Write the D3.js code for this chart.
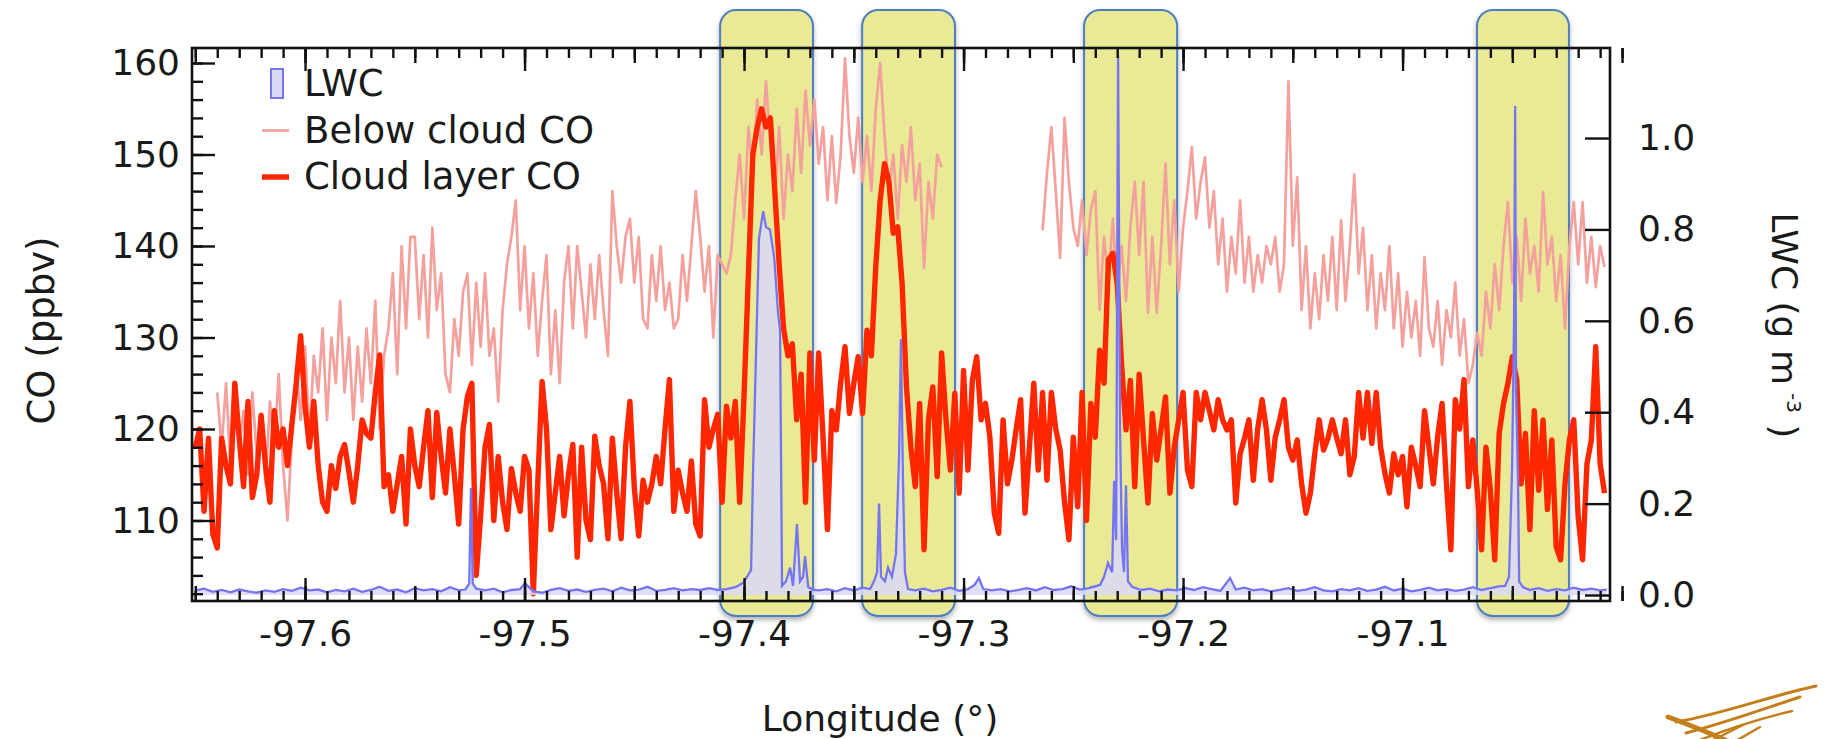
<!DOCTYPE html>
<html>
<head>
<meta charset="utf-8">
<script src="https://cdn.jsdelivr.net/npm/d3@7"></script>
<style>
  body { margin: 0; background: #fff; }
  svg text { font-family: "DejaVu Sans", Verdana, sans-serif; fill: #1a1a1a; }
</style>
</head>
<body>
<svg id="chart" width="1829" height="739"></svg>
<script>
// ---- values ----
// cloud layer CO (ppbv), one value every 0.002 deg starting at -97.650
const cloudStart = -97.650, cloudStep = 0.002;
const cloudCO = [
  118, 120, 111, 119, 108.5, 107, 119, 116, 114, 125,
  119, 113.7, 123, 112.5, 115, 121.5, 116, 112, 122, 118,
  120, 116, 120.5, 125, 130.2, 122.5, 118, 123, 116, 112,
  111, 116, 113.5, 117, 118.3, 115.3, 112, 116, 121, 119.5,
  119, 124, 128.1, 113.7, 115, 111, 114, 117, 109.6, 120,
  116, 113.7, 118, 122, 112.5, 121.8, 117, 113, 120, 115,
  109.6, 120, 123.6, 125, 104, 110.5, 118, 120.5, 110, 117,
  112, 109, 115.7, 113, 111, 117, 115.5, 102, 114, 125.2,
  120, 109, 113, 117, 110.5, 115, 118.3, 106, 118, 110,
  107.9, 119.2, 116, 114, 108, 119, 113, 108, 118, 123,
  113.6, 108.3, 114.4, 112, 114, 117, 114, 120, 125.4, 111,
  115.5, 113, 111, 116.5, 109.6, 108.3, 123.2, 118, 120, 121.6,
  112, 122.5, 119, 123, 112, 123.7, 137, 150, 153, 155,
  153, 154, 146, 138, 131, 128, 129.3, 121, 126, 112,
  128.3, 116.6, 128.3, 119, 109, 122, 119.9, 125, 129, 121.7,
  125, 127.9, 121.7, 130.8, 128, 137.7, 145, 149, 147, 141.4,
  142.1, 135.9, 124.6, 118, 113.7, 122.8, 106.8, 121, 124.6, 114.8,
  128.3, 121, 115.5, 123.9, 113, 126.4, 115.5, 125.3, 127.9, 121,
  122.8, 119.1, 110.8, 108.6, 121, 114, 116.6, 120, 123.2, 110.8,
  118, 125, 115.5, 124, 114.4, 124, 120, 117.7, 112, 107.9,
  119.1, 111.5, 124, 110, 122.8, 119.1, 128.6, 125, 138.5, 139.2,
  135.9, 127, 119.9, 125.3, 113.7, 126, 118.8, 111.9, 121.7, 116.6,
  120, 123.5, 113, 118, 121, 124, 115.5, 113.7, 124, 121,
  124, 122, 119.9, 123.2, 121, 119.9, 121, 111.9, 117.3, 119,
  121, 114.4, 120, 123.2, 119.9, 114.4, 119.1, 121, 123.2, 118,
  116.6, 118.8, 114, 110.8, 113, 117.3, 121, 117.7, 119, 121,
  119, 117.3, 121, 115, 117, 124, 119, 124, 118.4, 124,
  118, 115.1, 113, 117.3, 115, 117, 111.5, 118, 116, 113.7,
  122, 118, 114, 119.2, 122.8, 114, 106.8, 123.2, 120, 125.4,
  113.7, 118.8, 113.3, 106.8, 118, 113.3, 105.7, 119.5, 122.8, 125,
  127.9, 125.4, 114, 119.5, 109, 122, 113.3, 121, 111.2, 118.8,
  107.1, 105.7, 114, 118.8, 121, 110.4, 105.7, 116.2, 118.8, 129,
  116.2, 113
];

// below cloud CO (ppbv), two runs with a gap, 0.002 deg spacing
const belowStep = 0.002;
const belowStartA = -97.640;
const belowCOA = [
  124, 118, 125, 116, 124, 118, 122, 115, 124, 117,
  121, 114, 123, 118, 126, 116, 110, 119, 127, 121,
  129, 119, 128, 124, 131, 121, 130, 125, 134, 124,
  130, 121, 129, 123, 131, 125, 134, 120, 128, 131,
  137, 126, 140, 131, 141, 141, 132, 139, 130, 142,
  133, 137, 126, 124, 132, 128, 135, 137, 127, 136,
  129, 137, 128, 131, 123, 133, 138, 141, 145, 133,
  140, 131, 137, 128, 134, 139, 126, 133, 125, 136,
  140, 131, 140, 135, 130, 138, 132, 139, 133, 128,
  146, 140, 136, 141, 143, 136, 141, 132, 131, 139,
  134, 140, 133, 136, 131, 132, 139, 134, 140, 146,
  141, 135, 140, 130, 139, 138, 137, 139, 145, 150,
  143, 153, 148, 156, 150, 158, 151, 145, 153, 143,
  150, 146, 155, 148, 157, 151, 156, 149, 153, 145,
  152, 144.7, 150, 160.5, 152, 148, 154, 147, 152, 146,
  155, 160, 152, 146, 150, 143, 151, 147, 153, 145,
  149, 137.6, 147, 143, 150, 148.6
];
const belowStartB = -97.264;
const belowCOB = [
  141.7, 148, 153, 146, 138.7, 154, 147, 142, 140, 145,
  139, 144, 146, 133, 141, 136, 143, 135, 140, 134,
  142, 147, 139, 147, 132.7, 141, 132.7, 140, 149, 138,
  145, 135, 142, 146, 150.8, 143, 147, 149.7, 142, 146,
  138, 143, 135, 141, 137, 145, 136, 141, 135, 139,
  136, 140, 138, 141, 135, 138, 158, 140, 147.5, 133,
  140, 131, 137, 132, 139, 134, 141, 133, 142.8, 134,
  140, 147.8, 137, 142, 133, 139, 131, 137, 133, 140,
  131, 137, 129, 135, 130, 134, 128, 138.8, 131, 129,
  134, 127, 133, 130, 136, 128, 132, 125, 127, 130.5,
  128, 135, 131, 138, 133, 140, 144.8, 136, 141, 134,
  143, 137, 140, 135, 145.9, 138, 141, 134, 139, 131,
  140, 144.8, 138, 144.8, 136, 141, 135.5, 140, 137.7
];

// liquid water content (g m-3): [longitude, value]
const lwcData = [
  [-97.650,0.010],[-97.646,0.014],[-97.642,0.007],[-97.638,0.011],[-97.634,0.006],[-97.630,0.012],
  [-97.626,0.008],[-97.622,0.005],[-97.618,0.010],[-97.614,0.007],[-97.610,0.013],[-97.606,0.009],
  [-97.602,0.016],[-97.598,0.010],[-97.594,0.012],[-97.590,0.006],[-97.586,0.011],[-97.582,0.008],
  [-97.578,0.014],[-97.574,0.007],[-97.570,0.011],[-97.566,0.018],[-97.562,0.009],[-97.558,0.012],
  [-97.554,0.006],[-97.550,0.015],[-97.546,0.010],[-97.542,0.013],[-97.538,0.008],[-97.534,0.017],
  [-97.530,0.010],[-97.527,0.012],[-97.5252,0.025],[-97.5244,0.234],[-97.5236,0.025],[-97.522,0.014],
  [-97.518,0.010],[-97.514,0.014],[-97.510,0.006],[-97.506,0.011],[-97.502,0.013],[-97.4998,0.026],
  [-97.496,0.008],[-97.492,0.005],[-97.488,0.011],[-97.484,0.015],[-97.480,0.009],[-97.476,0.012],
  [-97.472,0.007],[-97.468,0.011],[-97.464,0.014],[-97.460,0.008],[-97.456,0.016],[-97.452,0.010],
  [-97.448,0.012],[-97.444,0.018],[-97.440,0.009],[-97.436,0.011],[-97.432,0.015],[-97.428,0.010],
  [-97.424,0.013],[-97.420,0.011],[-97.416,0.015],[-97.412,0.011],[-97.408,0.013],[-97.404,0.017],
  [-97.4005,0.026],[-97.3986,0.04],[-97.3968,0.055],[-97.3959,0.27],[-97.3945,0.536],[-97.3932,0.78],
  [-97.3913,0.84],[-97.39,0.805],[-97.3882,0.80],[-97.3863,0.74],[-97.3845,0.617],[-97.3836,0.58],
  [-97.3827,0.02],[-97.3809,0.03],[-97.379,0.06],[-97.3777,0.02],[-97.3759,0.155],[-97.3745,0.03],
  [-97.3731,0.04],[-97.3722,0.085],[-97.3708,0.018],[-97.369,0.012],
  [-97.366,0.010],[-97.362,0.013],[-97.358,0.008],[-97.354,0.015],[-97.350,0.010],[-97.346,0.016],
  [-97.3426,0.013],[-97.3408,0.03],[-97.3394,0.05],[-97.3385,0.2],[-97.3376,0.04],[-97.3358,0.03],
  [-97.3344,0.06],[-97.3326,0.04],[-97.3308,0.09],[-97.3294,0.3],[-97.3285,0.56],[-97.3276,0.25],
  [-97.3267,0.05],[-97.3253,0.013],
  [-97.322,0.010],[-97.318,0.014],[-97.314,0.008],[-97.310,0.011],[-97.306,0.016],[-97.302,0.009],
  [-97.298,0.013],[-97.295,0.022],[-97.293,0.037],[-97.291,0.013],[-97.287,0.010],[-97.283,0.013],
  [-97.279,0.008],[-97.275,0.011],[-97.271,0.015],[-97.267,0.010],[-97.263,0.017],[-97.259,0.011],
  [-97.255,0.013],[-97.251,0.019],[-97.247,0.012],
  [-97.243,0.015],[-97.2378,0.022],[-97.236,0.04],[-97.2342,0.07],[-97.2323,0.05],[-97.2314,0.25],
  [-97.2305,0.12],[-97.2296,1.18],[-97.2287,0.36],[-97.2278,0.10],[-97.2269,0.05],[-97.226,0.24],
  [-97.2251,0.03],[-97.2232,0.018],
  [-97.219,0.011],[-97.215,0.014],[-97.211,0.008],[-97.207,0.012],[-97.203,0.010],[-97.199,0.015],
  [-97.195,0.011],[-97.191,0.017],[-97.187,0.013],[-97.183,0.009],[-97.1786,0.037],[-97.176,0.012],
  [-97.172,0.016],[-97.168,0.010],[-97.164,0.013],[-97.160,0.008],[-97.156,0.011],[-97.152,0.015],
  [-97.148,0.009],[-97.144,0.012],[-97.140,0.017],[-97.136,0.010],[-97.132,0.008],[-97.128,0.013],
  [-97.124,0.010],[-97.120,0.015],[-97.116,0.009],[-97.112,0.012],[-97.108,0.018],[-97.104,0.010],
  [-97.100,0.014],[-97.096,0.008],[-97.092,0.011],[-97.088,0.016],[-97.084,0.010],[-97.080,0.013],
  [-97.076,0.009],[-97.072,0.012],[-97.068,0.017],[-97.064,0.011],[-97.060,0.015],[-97.056,0.019],
  [-97.0533,0.02],[-97.0515,0.04],[-97.0501,0.28],[-97.0492,0.6],[-97.0487,1.07],[-97.0483,0.45],
  [-97.0474,0.25],[-97.0469,0.03],[-97.0451,0.017],
  [-97.042,0.011],[-97.038,0.015],[-97.034,0.009],[-97.030,0.013],[-97.026,0.010],[-97.022,0.016],
  [-97.018,0.011],[-97.014,0.014],[-97.010,0.010],[-97.007,0.012]
];

// highlighted cloud passes (longitude ranges)
const cloudBoxes = [[-97.4109, -97.3686], [-97.3462, -97.3039], [-97.2451, -97.2027], [-97.0661, -97.0242]];

const coTicks = [110, 120, 130, 140, 150, 160];
const lwcTicks = [0, 0.2, 0.4, 0.6, 0.8, 1.0];
const lonTicks = [-97.6, -97.5, -97.4, -97.3, -97.2, -97.1];
const legendItems = [
  {label: 'LWC', type: 'box'},
  {label: 'Below cloud CO', type: 'thin'},
  {label: 'Cloud layer CO', type: 'thick'}
];

// ---- drawing ----
const W = 1829, H = 739;
const margin = {top: 48, right: 219, bottom: 138, left: 192};
const colors = {lwcFill: '#d9d9f8', lwcLine: '#7575f2', below: '#f4a19d', cloud: '#ff2600',
  boxFill: '#e9e996', boxLine: '#4d7fc0'};

const svg = d3.select('#chart');
const x = d3.scaleLinear().domain([-97.6515, -97.0055]).range([margin.left, W - margin.right]);
const yCO = d3.scaleLinear().domain([101.2, 161.64]).range([H - margin.bottom, margin.top]);
const yLWC = d3.scaleLinear().domain([-0.0131, 1.197]).range([H - margin.bottom, margin.top]);

const toPairs = (start, arr) => arr.map((v, i) => [start + i * cloudStep, v]);
const cloudSeries = toPairs(cloudStart, cloudCO);
const belowSeries = [toPairs(belowStartA, belowCOA), toPairs(belowStartB, belowCOB)];

const defs = svg.append('defs');
const shadow = defs.append('filter').attr('id', 'boxShadow')
    .attr('x', '-20%').attr('y', '-5%').attr('width', '140%').attr('height', '110%');
shadow.append('feDropShadow')
    .attr('dx', 0).attr('dy', 3).attr('stdDeviation', 2.5)
    .attr('flood-color', '#000').attr('flood-opacity', 0.3);

// yellow boxes behind everything
svg.append('g').attr('class', 'boxes')
    .selectAll('rect').data(cloudBoxes)
    .join('rect')
    .attr('x', d => x(d[0]))
    .attr('width', d => x(d[1]) - x(d[0]))
    .attr('y', margin.top - 38)
    .attr('height', H - margin.bottom - margin.top + 53)
    .attr('rx', 16)
    .attr('fill', colors.boxFill)
    .attr('stroke', colors.boxLine)
    .attr('stroke-width', 2)
    .attr('filter', 'url(#boxShadow)');

const coLine = d3.line().x(d => x(d[0])).y(d => yCO(d[1]));

svg.append('g').attr('class', 'below')
    .selectAll('path').data(belowSeries)
    .join('path')
    .attr('d', coLine)
    .attr('fill', 'none')
    .attr('stroke', colors.below)
    .attr('stroke-width', 2.7)
    .attr('stroke-linejoin', 'round');

svg.append('path').attr('class', 'cloud')
    .attr('d', coLine(cloudSeries))
    .attr('fill', 'none')
    .attr('stroke', colors.cloud)
    .attr('stroke-width', 5.4)
    .attr('stroke-linejoin', 'round');

const lwcArea = d3.area()
    .x(d => x(d[0]))
    .y0(yLWC(0))
    .y1(d => yLWC(d[1]));
svg.append('path').attr('class', 'lwcArea')
    .attr('d', lwcArea(lwcData))
    .attr('fill', colors.lwcFill)
    .attr('fill-opacity', 0.85);
svg.append('path').attr('class', 'lwcLine')
    .attr('d', d3.line().x(d => x(d[0])).y(d => yLWC(d[1]))(lwcData))
    .attr('fill', 'none')
    .attr('stroke', colors.lwcLine)
    .attr('stroke-width', 2.3);

// axes
const plotBottom = H - margin.bottom, plotRight = W - margin.right;
const styleAxis = g => {
    g.select('.domain').remove();
    g.selectAll('.tick line').attr('stroke', '#111').attr('stroke-width', 2.4);
    g.selectAll('.tick text').attr('font-size', 36).attr('fill', '#1a1a1a')
        .attr('font-family', '"DejaVu Sans", Verdana, sans-serif');
};
const lonMinor = d3.range(-97.65, -97.0, 0.01);
const lonMedium = d3.range(-97.65, -97.0, 0.05);

[['bottom', plotBottom, d3.axisBottom], ['top', margin.top, d3.axisTop]].forEach(([side, yPos, axisFn]) => {
    svg.append('g').attr('transform', `translate(0,${yPos})`)
        .call(axisFn(x).tickValues(lonMinor).tickSize(-10).tickFormat('')).call(styleAxis);
    svg.append('g').attr('transform', `translate(0,${yPos})`)
        .call(axisFn(x).tickValues(lonMedium).tickSize(-15).tickFormat('')).call(styleAxis);
    svg.append('g').attr('transform', `translate(0,${yPos})`)
        .call(axisFn(x).tickValues(lonTicks).tickSize(-23).tickPadding(19)
            .tickFormat(side === 'bottom' ? d => d.toFixed(1) : ''))
        .call(styleAxis);
});

svg.append('g').attr('transform', `translate(${margin.left},0)`)
    .call(d3.axisLeft(yCO).tickValues(d3.range(102, 162, 2)).tickSize(-11).tickFormat('')).call(styleAxis);
svg.append('g').attr('transform', `translate(${margin.left},0)`)
    .call(d3.axisLeft(yCO).tickValues(coTicks).tickSize(-23).tickPadding(12)).call(styleAxis);
svg.append('g').attr('transform', `translate(${plotRight},0)`)
    .call(d3.axisRight(yLWC).tickValues(lwcTicks).tickSize(-25).tickPadding(28)
        .tickFormat(d => d.toFixed(1)))
    .call(styleAxis);

svg.append('rect')
    .attr('x', margin.left).attr('y', margin.top)
    .attr('width', plotRight - margin.left).attr('height', plotBottom - margin.top)
    .attr('fill', 'none').attr('stroke', '#111').attr('stroke-width', 2.6);

// axis titles
svg.append('text')
    .attr('transform', `translate(54,${(margin.top + plotBottom) / 2 + 6}) rotate(-90)`)
    .attr('text-anchor', 'middle').attr('font-size', 37)
    .text('CO (ppbv)');
svg.append('text')
    .attr('x', 880).attr('y', 731)
    .attr('text-anchor', 'middle').attr('font-size', 36)
    .text('Longitude (°)');
const lwcTitle = svg.append('text')
    .attr('transform', `translate(1772,${(margin.top + plotBottom) / 2 + 1}) rotate(90)`)
    .attr('text-anchor', 'middle').attr('font-size', 36);
lwcTitle.append('tspan').text('LWC (g m');
lwcTitle.append('tspan').attr('font-size', 20).attr('dy', -15).attr('dx', 8).text('-3');
lwcTitle.append('tspan').attr('dy', 15).text(' )');

// legend
const legend = svg.append('g').attr('class', 'legend').attr('transform', 'translate(262,82)');
const rowH = 46.5;
legendItems.forEach((item, i) => {
    const g = legend.append('g').attr('transform', `translate(0,${i * rowH})`);
    if (item.type === 'box') {
        g.append('rect').attr('x', 9).attr('y', -13).attr('width', 12).attr('height', 29)
            .attr('fill', colors.lwcFill).attr('stroke', colors.lwcLine).attr('stroke-width', 2);
    } else {
        g.append('line').attr('x1', 0).attr('x2', 27).attr('y1', 2).attr('y2', 2)
            .attr('stroke', item.type === 'thin' ? colors.below : colors.cloud)
            .attr('stroke-width', item.type === 'thin' ? 2.8 : 5.5);
    }
    g.append('text').attr('x', 42).attr('y', 14).attr('font-size', 37).text(item.label);
});

// small logo, bottom right corner
const logo = svg.append('g').attr('transform', 'translate(1668,686)')
    .attr('stroke', '#c47f1c').attr('fill', 'none').attr('stroke-linecap', 'round');
logo.append('path').attr('d', 'M0,31 C25,40 48,50 62,56').attr('stroke-width', 5);
logo.append('path').attr('d', 'M8,36 C55,28 105,9 148,0').attr('stroke-width', 3);
logo.append('path').attr('d', 'M18,47 C60,36 98,22 132,11').attr('stroke-width', 3);
logo.append('path').attr('d', 'M32,54 C62,42 90,33 124,25').attr('stroke-width', 2.5);
logo.append('path').attr('d', 'M45,54 L75,39 M66,56 L92,41').attr('stroke-width', 2.5);
</script>
</body>
</html>
